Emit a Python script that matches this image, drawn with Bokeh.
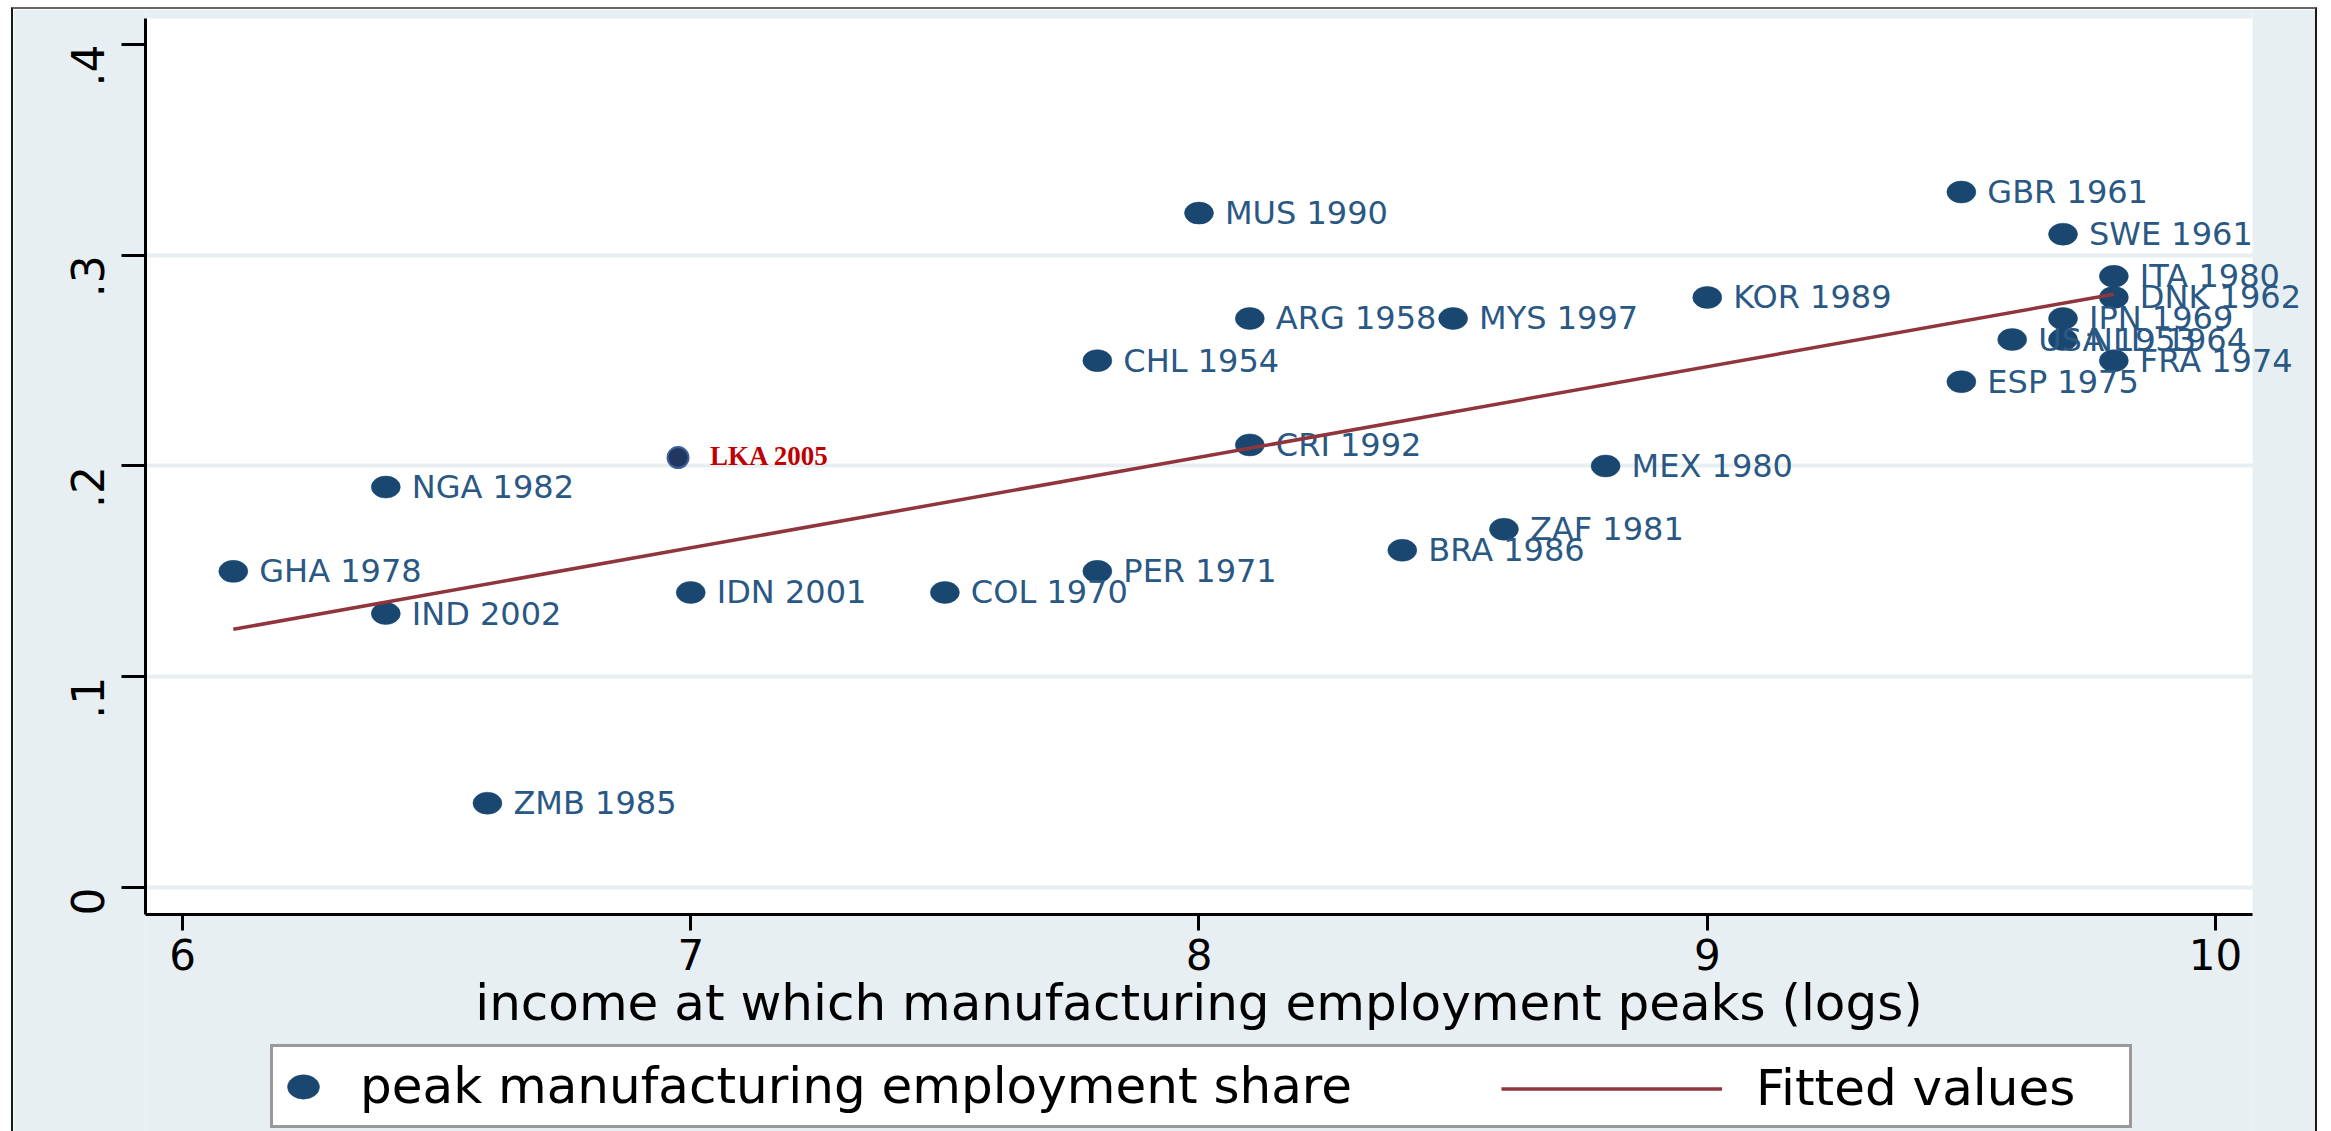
import math

from bokeh.core.properties import value
from bokeh.embed import file_html
from bokeh.models import BoxAnnotation, ColumnDataSource, FixedTicker, Legend, LegendItem, Range1d
from bokeh.plotting import figure
from bokeh.resources import INLINE

# Peak manufacturing employment share vs. log income at the peak
labels = [
    "GHA 1978", "IND 2002", "NGA 1982", "ZMB 1985", "IDN 2001", "COL 1970",
    "PER 1971", "CHL 1954", "MUS 1990", "ARG 1958", "CRI 1992", "BRA 1986",
    "MYS 1997", "ZAF 1981", "MEX 1980", "KOR 1989", "GBR 1961", "ESP 1975",
    "USA 1953", "SWE 1961", "JPN 1969", "NLD 1964", "ITA 1980", "DNK 1962",
    "FRA 1974",
]
peak_income = [
    6.1, 6.4, 6.4, 6.6, 7.0, 7.5,
    7.8, 7.8, 8.0, 8.1, 8.1, 8.4,
    8.5, 8.6, 8.8, 9.0, 9.5, 9.5,
    9.6, 9.7, 9.7, 9.7, 9.8, 9.8,
    9.8,
]
peak_share = [
    0.15, 0.13, 0.19, 0.04, 0.14, 0.14,
    0.15, 0.25, 0.32, 0.27, 0.21, 0.16,
    0.27, 0.17, 0.20, 0.28, 0.33, 0.24,
    0.26, 0.31, 0.27, 0.26, 0.29, 0.28,
    0.25,
]

# Sri Lanka, highlighted separately
lka_label = ["LKA 2005"]
lka_income = [6.975]
lka_share = [0.204]

# Linear fit endpoints
fit_income = [6.1, 9.8]
fit_share = [0.1225, 0.2815]

x_ticks = [6, 7, 8, 9, 10]
y_ticks = [0, 0.1, 0.2, 0.3, 0.4]
y_tick_text = ["0", ".1", ".2", ".3", ".4"]

# extent of the white plot region, in data units
X_LO, X_HI = 5.9272, 10.0728
Y_LO, Y_HI = -0.0128, 0.4123

NAVY = "#1A476F"
LABEL_BLUE = "#2A5884"
MAROON = "#90353B"
BG = "#E8EFF2"
FONT = "DejaVu Sans"

# the frame spans the whole canvas; axes are pinned to the plot region's edges
p = figure(
    width=2306, height=1124,
    x_range=Range1d(5.66749, 10.20463), y_range=Range1d(-0.11673, 0.41661),
    output_backend="svg", toolbar_location=None,
    min_border=0, min_border_left=0, min_border_right=0, min_border_top=0, min_border_bottom=0,
    background_fill_color="white", border_fill_color=BG, outline_line_color=None,
    margin=(7, 0, 0, 11),
    styles={
        "border-left": "2px solid #1a1a1a",
        "border-top": "2px solid #666666",
        "border-right": "2px solid #1a1a1a",
    },
)

# light surround outside the plot region
for kw in (
    dict(right=X_LO),
    dict(left=X_HI),
    dict(left=X_LO, right=X_HI, top=Y_LO),
    dict(left=X_LO, right=X_HI, bottom=Y_HI),
):
    p.add_layout(BoxAnnotation(fill_color=BG, fill_alpha=1.0, line_color=None,
                               level="underlay", **kw))

# grid: horizontal only, no line at the top tick
p.xgrid.visible = False
p.ygrid.ticker = FixedTicker(ticks=[0, 0.1, 0.2, 0.3])
p.ygrid.bounds = (X_LO, X_HI)
p.ygrid.grid_line_color = BG
p.ygrid.grid_line_width = 4

# x axis
p.xaxis.fixed_location = Y_LO
p.xaxis.bounds = (X_LO, X_HI)
p.xaxis.ticker = FixedTicker(ticks=x_ticks)
p.xaxis.axis_label = "income at which manufacturing employment peaks (logs)"
p.xaxis.axis_label_text_font = FONT
p.xaxis.axis_label_text_font_size = "50px"
p.xaxis.axis_label_text_font_style = "normal"
p.xaxis.axis_label_text_color = "black"
p.xaxis.axis_label_standoff = 0
p.xaxis.major_tick_out = 16
p.xaxis.major_label_standoff = 9

# y axis
p.yaxis.fixed_location = X_LO
p.yaxis.bounds = (Y_LO, Y_HI)
p.yaxis.ticker = FixedTicker(ticks=y_ticks)
p.yaxis.major_label_overrides = dict(zip(y_ticks, y_tick_text))
p.yaxis.major_label_orientation = math.pi / 2
p.yaxis.major_tick_out = 24
p.yaxis.major_label_standoff = 34

for ax in (p.xaxis[0], p.yaxis[0]):
    ax.axis_line_color = "black"
    ax.axis_line_width = 3
    ax.major_tick_line_color = "black"
    ax.major_tick_line_width = 3
    ax.major_tick_in = 0
    ax.minor_tick_line_color = None
    ax.major_label_text_font = FONT
    ax.major_label_text_font_size = "42px"
    ax.major_label_text_color = "black"
p.yaxis.major_label_text_font_size = "44px"

src = ColumnDataSource(dict(x=peak_income, y=peak_share, label=labels))

dots = p.ellipse(
    x="x", y="y", width=29, height=22, width_units="screen", height_units="screen",
    source=src, fill_color=NAVY, line_color=NAVY, line_width=0.5,
)
p.text(
    x="x", y="y", text="label", source=src, x_offset=26,
    text_align="left", text_baseline="middle",
    text_font=value(FONT), text_font_size="32px", text_color=LABEL_BLUE,
)

fit = p.line(fit_income, fit_share, line_color=MAROON, line_width=3.5)

p.scatter(
    lka_income, lka_share, size=21, marker="circle",
    fill_color="#21375F", line_color="#3F5F9E", line_width=2,
)
p.text(
    lka_income, lka_share, text=lka_label, x_offset=32, y_offset=-2,
    text_align="left", text_baseline="alphabetic",
    text_font=value("Liberation Serif"), text_font_style="bold",
    text_font_size="27px", text_color="#C00000",
)

# legend box with the marker entry, and the fit entry laid over its right half
leg_dots = Legend(
    items=[LegendItem(label="peak manufacturing employment share", renderers=[dots])],
    location=(257, 5), margin=0, padding=10, spacing=0,
    glyph_width=40, glyph_height=55, label_height=55, label_width=1759,
    label_standoff=37,
    border_line_color="#333333", border_line_width=3,
    background_fill_color="white", background_fill_alpha=1.0,
    label_text_font=FONT, label_text_font_size="50px", label_text_color="black",
)
leg_fit = Legend(
    items=[LegendItem(label="Fitted values", renderers=[fit])],
    location=(1488, 16), margin=0, padding=0, spacing=0,
    glyph_width=221, glyph_height=55, label_height=55,
    label_standoff=34,
    border_line_color=None, background_fill_alpha=0.0,
    label_text_font=FONT, label_text_font_size="50px", label_text_color="black",
)
p.add_layout(leg_dots)
p.add_layout(leg_fit)

open("out.html", "w").write(file_html(p, INLINE))
